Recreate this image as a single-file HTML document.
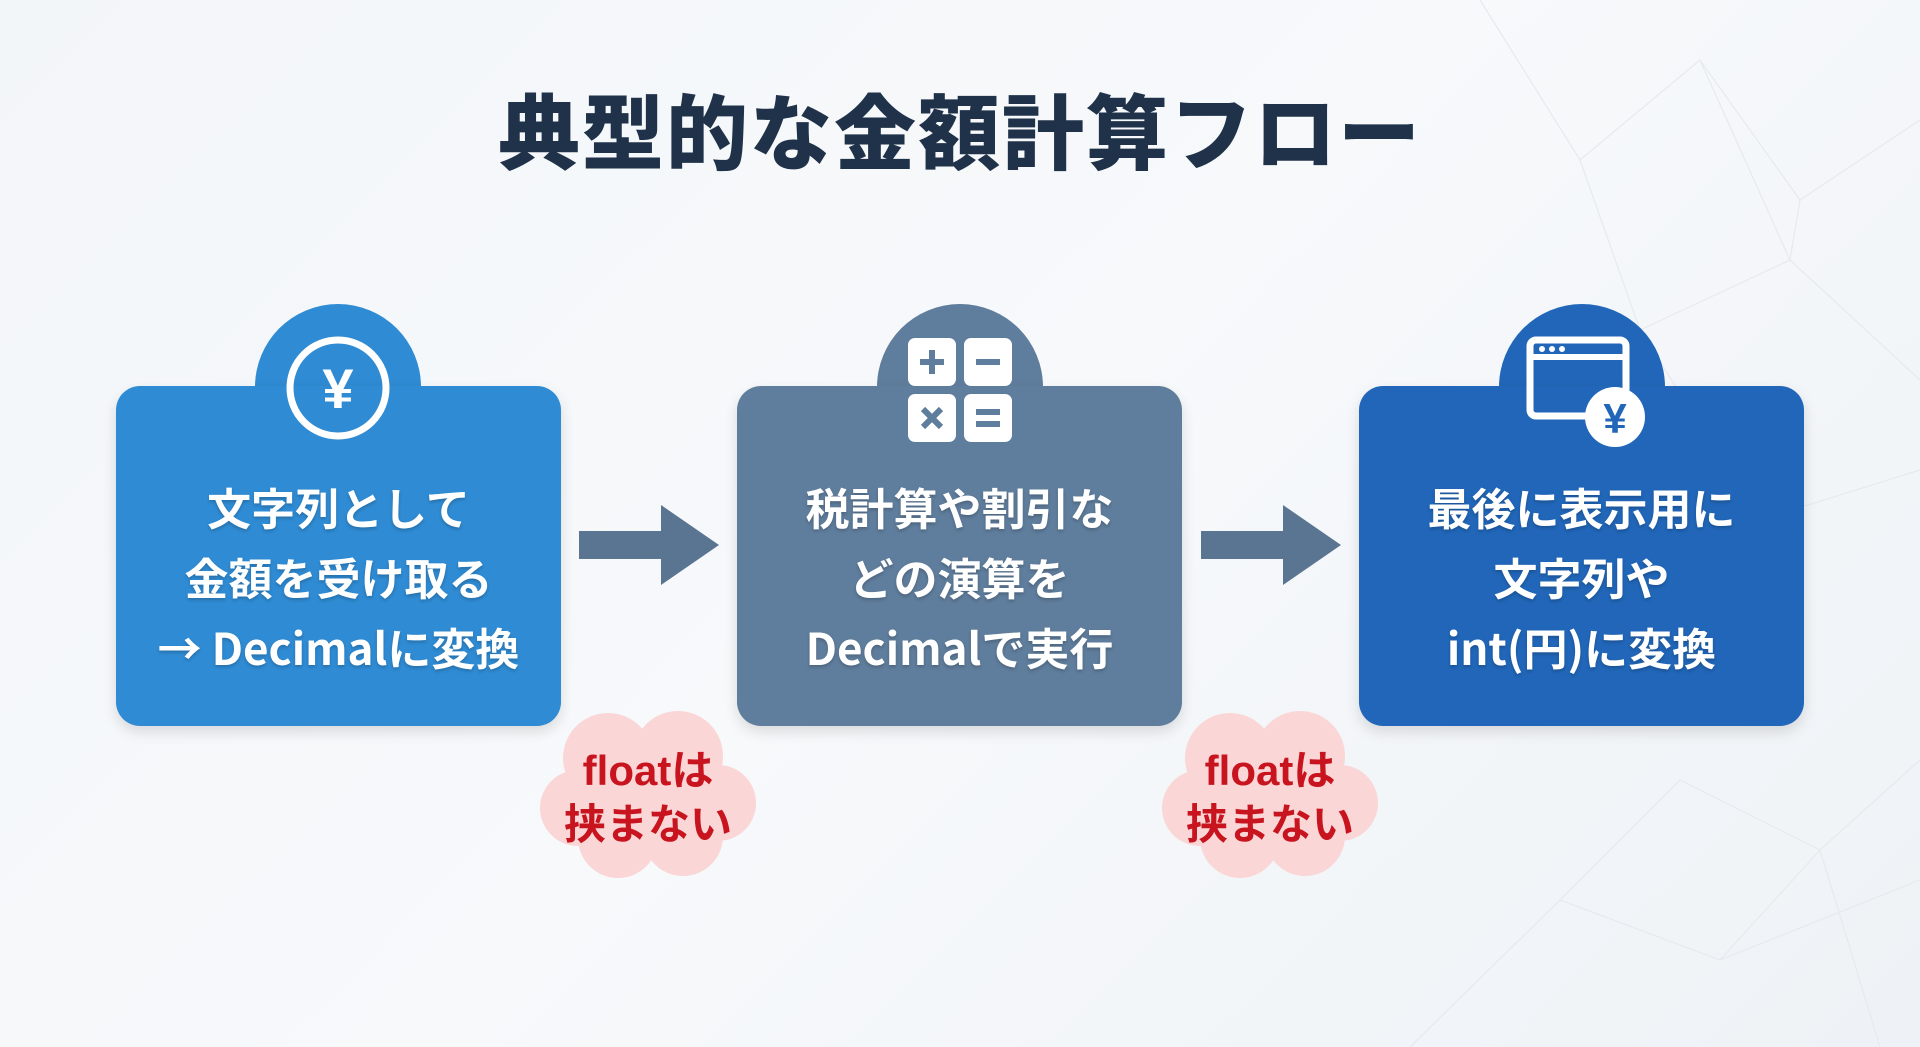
<!DOCTYPE html>
<html><head><meta charset="utf-8"><style>
html,body{margin:0;padding:0}
body{width:1920px;height:1047px;overflow:hidden;position:relative;background:linear-gradient(135deg,#f3f6f9 0%,#f7f9fb 50%,#eef2f6 100%);font-family:"Liberation Sans","Noto Sans CJK JP",sans-serif}
.title{position:absolute;left:0;width:1920px;top:68px;text-align:center;font-size:82px;font-weight:900;color:#1f3249;letter-spacing:2px}
.box{position:absolute;top:386px;width:445px;height:340px;border-radius:24px;color:#fff;box-shadow:0 6px 14px rgba(0,0,0,.12)}
.tab{position:absolute;top:304px;width:166px;height:166px;border-radius:50%}
.txt{position:absolute;left:0;width:100%;top:85px;text-align:center;font-size:44px;font-weight:bold;line-height:70px;text-shadow:0 2px 3px rgba(0,0,0,.2);font-family:"Noto Sans CJK JP","Liberation Sans",sans-serif}
.arrow{position:absolute;top:505px}
.cloud{position:absolute;width:220px;height:175px;top:708px}
.ctext{position:absolute;left:0;width:100%;top:36px;text-align:center;color:#c8141e;font-weight:bold;font-size:42px;line-height:54px}
</style></head><body>
<svg style="position:absolute;left:0;top:0" width="1920" height="1047">
<g stroke="#e6eaef" stroke-width="1.2" fill="none">
<polyline points="1480,0 1580,160 1700,60 1800,200 1920,120"/>
<polyline points="1580,160 1640,330 1790,260 1920,380"/>
<polyline points="1700,60 1790,260 1800,200"/>
<polyline points="1640,330 1760,520 1920,470"/>
<polyline points="1410,1047 1560,900 1720,960 1920,880"/>
<polyline points="1560,900 1680,780 1820,850 1920,760"/>
<polyline points="1720,960 1820,850 1880,1047"/>
</g></svg>
<div class="title">典型的な金額計算フロー</div>

<div class="tab" style="left:255px;background:#2f8bd3"></div>
<div class="box" style="left:116px;background:#2f8bd3">
<div class="txt">文字列として<br>金額を受け取る<br>→ Decimalに変換</div></div>
<svg style="position:absolute;left:284px;top:334px" width="108" height="108"><circle cx="54" cy="54" r="48" fill="none" stroke="#fff" stroke-width="7"/><text x="54" y="74" text-anchor="middle" font-size="56" font-weight="bold" fill="#fff" font-family="Liberation Sans,sans-serif">¥</text></svg>

<div class="tab" style="left:877px;background:#5f7d9c"></div>
<div class="box" style="left:737px;background:#5f7d9c">
<div class="txt">税計算や割引な<br>どの演算を<br>Decimalで実行</div></div>
<svg style="position:absolute;left:908px;top:338px" width="104" height="104">
<rect x="0" y="0" width="48" height="48" rx="7" fill="#fff"/><rect x="56" y="0" width="48" height="48" rx="7" fill="#fff"/>
<rect x="0" y="56" width="48" height="48" rx="7" fill="#fff"/><rect x="56" y="56" width="48" height="48" rx="7" fill="#fff"/>
<g stroke="#5f7d9c" stroke-width="6"><line x1="12" y1="24" x2="36" y2="24"/><line x1="24" y1="12" x2="24" y2="36"/><line x1="68" y1="24" x2="92" y2="24"/>
<line x1="15" y1="71" x2="33" y2="89"/><line x1="33" y1="71" x2="15" y2="89"/><line x1="68" y1="74" x2="92" y2="74"/><line x1="68" y1="86" x2="92" y2="86"/></g></svg>

<div class="tab" style="left:1499px;background:#2166b8"></div>
<div class="box" style="left:1359px;background:#2166b8">
<div class="txt">最後に表示用に<br>文字列や<br>int(円)に変換</div></div>
<svg style="position:absolute;left:1525px;top:335px" width="120" height="112">
<rect x="5" y="5" width="96" height="76" rx="6" fill="none" stroke="#fff" stroke-width="7"/><line x1="5" y1="22" x2="101" y2="22" stroke="#fff" stroke-width="6"/>
<circle cx="17" cy="14" r="3" fill="#fff"/><circle cx="27" cy="14" r="3" fill="#fff"/><circle cx="37" cy="14" r="3" fill="#fff"/>
<circle cx="90" cy="82" r="30" fill="#fff"/><text x="90" y="98" text-anchor="middle" font-size="42" font-weight="bold" fill="#2166b8" font-family="Liberation Sans,sans-serif">¥</text></svg>

<svg class="arrow" style="left:579px" width="142" height="80"><polygon points="0,26 82,26 82,0 140,40 82,80 82,54 0,54" fill="#5a7591"/></svg>
<svg class="arrow" style="left:1201px" width="142" height="80"><polygon points="0,26 82,26 82,0 140,40 82,80 82,54 0,54" fill="#5a7591"/></svg>

<div class="cloud" style="left:538px"><svg width="220" height="175"><g fill="#fbd6d6"><circle cx="70" cy="50" r="45"/><circle cx="140" cy="48" r="45"/><circle cx="180" cy="95" r="38"/><circle cx="40" cy="100" r="38"/><circle cx="80" cy="130" r="40"/><circle cx="145" cy="128" r="40"/><circle cx="110" cy="90" r="55"/></g></svg><div class="ctext">floatは<br>挟まない</div></div>
<div class="cloud" style="left:1160px"><svg width="220" height="175"><g fill="#fbd6d6"><circle cx="70" cy="50" r="45"/><circle cx="140" cy="48" r="45"/><circle cx="180" cy="95" r="38"/><circle cx="40" cy="100" r="38"/><circle cx="80" cy="130" r="40"/><circle cx="145" cy="128" r="40"/><circle cx="110" cy="90" r="55"/></g></svg><div class="ctext">floatは<br>挟まない</div></div>
</body></html>
